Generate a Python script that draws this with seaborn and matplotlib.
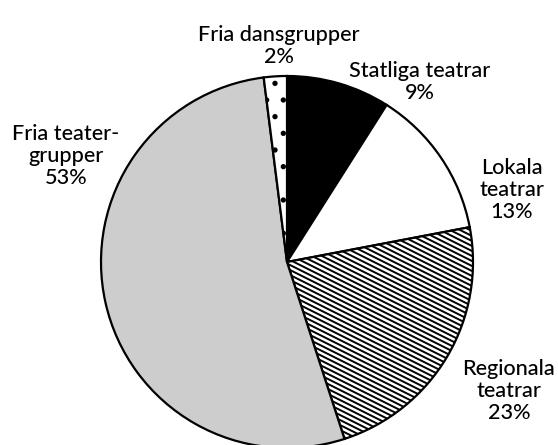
import matplotlib
matplotlib.use("Agg")
import matplotlib.pyplot as plt
import matplotlib.hatch as mhatch
from matplotlib.path import Path
import seaborn as sns

# --- data ---
labels = ["Statliga teatrar", "Lokala\nteatrar", "Regionala\nteatrar",
          "Fria teater-\ngrupper", "Fria dansgrupper"]
shares = [9, 13, 23, 53, 2]


# shallower "\" hatch, like the fine stripes in the reference
class ShallowBackslash(mhatch.HatchPatternBase):
    def __init__(self, hatch, density):
        self.n = 20 if "\\" in hatch else 0
        self.num_lines = int(1.5 * self.n) + 1 if self.n else 0
        self.num_vertices = 2 * self.num_lines

    def set_vertices_and_codes(self, vertices, codes):
        for k in range(self.num_lines):
            y0 = k / self.n
            vertices[2 * k] = (0.0, y0)
            vertices[2 * k + 1] = (1.0, y0 - 0.5)
            codes[2 * k] = Path.MOVETO
            codes[2 * k + 1] = Path.LINETO


mhatch._hatch_types = [ShallowBackslash if t is mhatch.SouthEastHatch else t
                       for t in mhatch._hatch_types]

# --- style ---
sns.set_theme(style="white")
plt.rcParams["font.family"] = ["Lato", "DejaVu Sans"]
plt.rcParams["hatch.linewidth"] = 1.4
plt.rcParams["hatch.color"] = "black"

colors = ["black", "white", "white", "#cdcdcd", "white"]
hatches = ["", "", "\\", "", "."]

W, H = 558, 445
fig = plt.figure(figsize=(W / 100, H / 100), dpi=100)
cx, cy, r = 287, 262, 186
ax = fig.add_axes([(cx - r) / W, (H - cy - r) / H, 2 * r / W, 2 * r / H])

wedges, _ = ax.pie(shares, colors=colors, startangle=90, counterclock=False,
                   radius=1, wedgeprops=dict(edgecolor="black", linewidth=1.6))
for w, h in zip(wedges, hatches):
    w.set_hatch(h)
ax.set_xlim(-1, 1)
ax.set_ylim(-1, 1)
ax.axis("off")

# label positions in figure pixels (x, y from top)
label_pos = [(420, 82), (512, 190), (509, 391), (66, 156), (279, 46)]
for lab, val, (px, py) in zip(labels, shares, label_pos):
    fig.text(px / W, 1 - py / H, f"{lab}\n{val}%", ha="center", va="center",
             fontsize=15.6, fontweight="medium", color="black", linespacing=1.1)

fig.savefig("out.png", dpi=100)
